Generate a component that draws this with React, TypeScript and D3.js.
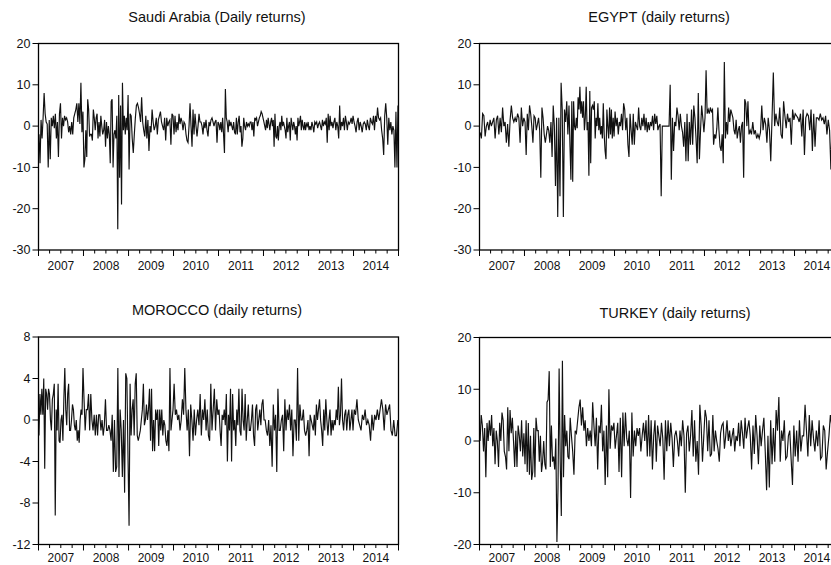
import React, { useEffect, useRef } from "react";
import * as d3 from "d3";

// one row of weekly-ish returns per calendar year, 2007 .. 2014
const years = [2007, 2008, 2009, 2010, 2011, 2012, 2013, 2014];
const yearLabels = ["2007", "2008", "2009", "2010", "2011", "2012", "2013", "2014"];

const saudiReturns: number[][] = [
  [-2, -9, 1.5, -3, 2, 8, 3, 1, 0.5, -10, 1.5, -8, 2, 0, 2.5, -0.5, 3, -3, 1, -7.5, 3, 5.5, -3, 2, 0, 2.5, 1.5, 2, 1, -1.5, 0, -2, 1, -2, 2, 3, 4, 5.5, 1, 5.5, 0.5, 10.5, -1.5, 3.5],
  [-10, -8, -1, -7.5, 6.5, 4, -2.5, -2, -2, -3.5, 4, 2, -1, 2, 3, -3, 1, -2.5, 2.5, 0, -2, -1, 1.5, -5, 1, -3, 0, -2, -9, 6, 6.5, -10, -2, -1, -3, 2.5, -25, 7.5, -12.5, 5, -19, 10.5, -1, 2.5, -2, 2, -1, 7.5],
  [-10.5, 3, 2.5, -3, -6.5, -2, 2, 5, 5.5, 4.5, 3, 1, 7, 1, -1, -2.5, 2.5, -3, 1.5, -6, 0, -1.5, 4, 1, -1, 0, 2, -2, 1.5, 2.5, 3.5, 1, 0, -1, 2, -3.5, 2, 0, 1, 1.5, -4.5, 3, 2.5],
  [-2, 2.5, -1.5, 1, -1, 3, 0.5, 2, 1, -1, 1, 0.5, -2, -3.5, -4, 0, 5.5, 0, -5, 4, -2, 3, 0, -2.5, 0, 3, 1, 1, 0, -2, 1, -0.5, 1.5, -1, -2.5, 1, 0, 1.5, 2, 1, 0, 1, 1.5, -4, 1],
  [0.5, -1, 1, -1.5, 2, -2, -6.5, 9, 2, 1, -1.5, 1.5, 0, 1, 0, -1, 1, -1.5, -2, 2, -2, 1, 2.5, -1.5, 0, -5, -3, 2, 0, -1, 1, 0, 0.5, 0, 1, 1, -1, 1, -2.5, 2, 1.5, 2, 0, 1, 2, 2.5, 3.5, 3, 2],
  [1, 0, -1, 1.5, -0.5, 2, 0.5, -1, 1, 2, 0, 1.5, -5, 3, -2.5, -3, 0, -3.5, 0, 1, -1, 2.5, 0, 1, 0, -1, -3, 2, -1.5, 0, 1, -3.5, 2, 0.5, -1, 1, 0, -2, 0, -3.5, 2, 0, 1, 2.5, -1, 1.5, 0, -1, 1, -1, 0.5, 0, 1],
  [-1, 0, -1, 1, 0, -1.5, 1, 0.5, 1, -0.5, 0.5, 1, 0, -1, 1.5, 0, 1, 0.5, 2, -4, 3, -1, 2.5, 0, 1, -0.5, 1, 2, -1, 1, 0, -3, 5, -1, 1, 0, 2, -1, 2.5, 1, -1, 1, 0.5, 1, 2, 0.5, 2.5],
  [1, 0, -1.5, 1, 2, -1, 1, 0, -1.5, 0.5, 1, 0.5, -1, 1.5, 0, -1, 2, 1, 0.5, 2.5, -1, 2.5, 1, 4.5, 2, 1.5, 2, -1, -3, -7, 2.5, 5.5, 2, -4.5, 2, -1, 1, -2, 0, -1, -10, 3.5, -10, 5],
];

const egyptReturns: number[][] = [
  [-1.5, -3, 3, 2.5, -2.5, 0, 1, -1, 1.5, 0, 1, 2, -3, 1.5, 2.5, -2, 2, -1.5, 4.5, 0, 1, -4, 0.5, -5, 1.5, 5, 2, 1, 2, 1, 3, 2, -4, 4.5, 0, 2],
  [1, -7, 3, -1, 5, 3, 0, -4, 2.5, 2, -1, 0.5, 2, -1, -12.5, 4.5, 2, -2, -4, -2, 0, -1, -4, 1, -7.5, 5, 0, -14.5, 2, -22, 2, -17, 10.5, 4, -22, 4, 1, 6, -2, 5],
  [-5, -13, 6, -13.5, 6, 0, -1, 2, -0.5, 7, 4, 9.5, 3, 6, 2, 6, -1, 2, 9.5, -1, 1, -12, 8.5, -9, 4.5, 5, 4, 6, -3, 2, 0, 5.5, -1, 2, -2, 0, -3, 5.5, -2, -6, -8, 4, 0, -3, 4.5, -2, 4, -3, 2, -2.5],
  [3.5, 0, 2, -2, 1, 0, 3, -1, 5.5, 4, -1, 2, -4.5, -7.5, 3, -1, -4.5, 3, -4.5, 1, 0, -1, 4.5, 0, -1, 2, 0, 3, -1, 2, -1.5, 1, -1, 1, 0, 2.5, -1, 3, 0.5, 2.5, -1, 0],
  [0.5, -17, 0, 0, 0, 0, 0, 0, 0, 10, -13, 2, -6, 1, 0, 4.5, 2.5, -1, 3, 0, -1.5, -5, 1, -8.5, 3, -8.5, 1, -4.5, 4, -4.5, 5, 2, -3, -9, 8, -8, -1, 5, 2, -1.5],
  [2, 13.5, 3, 4, 3, 4.5, 3.5, 4, -4.5, -2, -3, -0.5, 4.5, -1, -5, -6, -2, -9, 15.5, -3, 1, -2, 4.5, 1, 4, 3, 2, -1, -2, 1.5, -3, -1, 0, -4, 0, 1, -12.5, 6.5, 5.5, 0, 6, -2],
  [-1, -2, 1, -2, -1, -3, -2, -3, -1.5, 5, -1, 2, 0.5, -4, 2, -1, -8.5, 2, 13, 0, 3, 1, 0, 4.5, -2, -3, 6, 2.5, -0.5, 3, 1, 2, -4.5, 4, 1.5],
  [3, 2.5, 2, 1, 3, -2.5, 4, -7, 2, 3, 2.5, -1, 4, -6, 3, -5, 2, 2, 1.5, 3, 1.5, 2, 0.5, 2.5, -2, 1.5, -1, -10.5, 3, 1, -2, 2, 1, -1],
];

const moroccoReturns: number[][] = [
  [-1.5, 2.5, 0.5, 3, 0.5, 4, -4.7, 3, 2.5, 1, 3, 2.5, 0, -1, 2, 2.5, 3.5, -9.2, 1, -1, 3.5, -2, -2.2, 0, 0.5, -2, 2, 5, 1, -0.5, 2.5, 3.5, -1, -1, 0, 1.5, 1, -0.5, -1, 0, -2, -1, -2.2, 0, 1, 0.5, 5],
  [2, -1, 1, 1, 2.5, -1, 2.5, 0, -1, 0.5, -1.5, 0.5, -1.5, 0.5, 0.5, -1, 0, -1.5, -0.5, 2, -1, -1, -0.5, -1, -2, 0.5, -5, 0, -5, -4.5, 5, -5.5, 1, -1, -5.5, 0, -7, 4.5, 4, -3.5],
  [-10.2, 3.5, -1.5, 1, 2, -1.5, 3.5, 4.5, -1.5, -2, -1.5, -1, 0, 1, 3.5, -0.5, 0, 1.5, 0, 1, 3, -2, 3, -3, 0, -3, 1, 0, 1, -2.5, 1, -1, 1, -1.5, 0, -0.5, -2, -2.5, -1, -3, 5, -1, 0, 1],
  [3.5, 0.5, 1, 0, 0.5, -1, 0, 2, 0.5, 5, 1, -1, 1, -3.5, 1.5, 0, -2, 1, -1.5, 0, 1, -0.5, 2.5, -1.5, 1, 0, 2, -1, 1, -1.5, -2, 3.5, -1, 1, 3, -1, 2, 0.5],
  [1, -1, -2.5, 0.5, 0, 1, -0.5, 2.5, -4, 0.5, -1, 3, -4, 2.5, -1, 0, -2.5, 1, -0.5, 3, -1, -1.5, 3, 0, -1, 2.5, -2, 0, 1.5, -1, -1, 0, 1.5, -1.5, -2.5, 1, 1.5, -1, 0, 1, -0.5, 1.5, 2],
  [0, 0, -1, -1.5, 0, -2.5, -0.5, -4.5, 1.5, -1, 0.5, -5, 3, -1, -1, 0, 0.5, -3, 2, -1, 1, 0, 1.5, -1, 1, -3.5, 0, 0, -2, 5, -2, 1.5, 0, 0, 1, -1, -1.5, -1, 0],
  [-3.5, 0.5, 0, -0.5, -1, 0.5, -1.5, 1.5, 0, 1, 2, 0, -1, -2.5, 1, -1, 2, 0, -1.5, 0, 1, -1.5, 0, -1, 0, -0.5, 1, 0, 3.2, -0.5, 0.5, 4, 0, -1, 0.5, 1, -1, 0.5, 1, -1, 0, 1, -1],
  [1, 0.5, 2, 0, -0.5, -1, 0.5, 0, 1, -0.5, 0, -0.5, -2, 0.5, -1, 0.5, 0, 1, 0, 1, 2, 1, -1, 1.5, 0.5, 1, 1.5, -1, -1.5, 0, -1.5, -1.5, 0],
];

const turkeyReturns: number[][] = [
  [0, 5, 3, -2, 2.5, -7, 3.5, 0, 4, 1, 5, -1, 2.5, -4.5, 2, 0, -5, 3.5, 0, 5.5, 4, -2, -3, -5.5, 6.5, -2, 6, 1.5, 4.5, 0, -5, 2, -5, 3, 1, -2, 4, -3, 1.5],
  [-4.5, 4, -6, 3.5, -6.5, 1, -7.5, -6, 2.5, -7, 4.5, 2, 2, -4, 1, -6, -4, 0, -4.5, -5.5, 7.5, 8, 13.5, -5, 3, -4, -3, -5.5, 0.5, -19.5, -9, 14, -4, -14.5, 15.5, -7, 5, -1, 2, -3, -3.5],
  [4.5, 1, -2, -6.5, 2, 1.5, 4, 6.5, 8, 3, 6.5, 2, 4, -1, 2.5, 0, 2, -1, 7.5, 3, -1, 4.5, -5.5, 3, 1.5, 7, -2, 2, -8.5, 3, -7, 10, -1.5, 3, 2, 3.5],
  [-1.5, 1, 3.5, -6, 4.5, -7, 5.5, -1, 5.5, 0.5, -1, 2, -11, 5.5, -3, 2, -1, 2.5, 1, 2.5, -2, 1, 3.5, 0, 4, -3, 5, -3, 4, -5.5, 1, 4, -4, 3, 1],
  [-1, 3.5, 0.5, -7.5, 4, -2, 4, -1, 3.5, 0.5, -5, 1, 2, 0, -3, 2, -1, 4, 1, -10, 1.5, 3, -2, 1, 6, -3, 4, -4, 0, -6.5, 7, 3, -4, 1],
  [6, 4.5, -2, 4, -3, -2.5, 5, -2, 2, 0, -1.5, -4, 1.5, 3, 3.5, -1.5, 1, 4, 0, 2, -1, 1, 2.5, -2, 1, 0, 3.5, -1, 4, 1.5, -1.5, 4.5, 0.5, 2.5, 4],
  [1, -5.5, 3, -2.5, 5, 1, -4.5, 3, -1, 2, 4.5, -2, -9.5, 1, -9, 4, -4.5, 2.5, -4, 6, 2, 8.5, -4, 2, 0, 4, -3.5, -3, 1, 2, -3.5, -8.5, 3],
  [-3, 2, -4, 4, -2, 1, 1, 7, 2, -3, 5, -1, 4, 0.5, -2, 2, -1, 4, -3.5, -3, 3, 2, -5.5, -2, 1, 5, 3, -1, 2, -2, 1, 0],
];

const saudiTicks = [-30, -20, -10, 0, 10, 20];
const egyptTicks = [-30, -20, -10, 0, 10, 20];
const moroccoTicks = [-12, -8, -4, 0, 4, 8];
const turkeyTicks = [-20, -10, 0, 10, 20];

const panels = [
  { title: "Saudi Arabia (Daily returns)", values: saudiReturns, ticks: saudiTicks, x: 38.5, y: 43.5, h: 206.5, titleX: 217, titleY: 21.5, labelGap: 20 },
  { title: "EGYPT (daily returns)", values: egyptReturns, ticks: egyptTicks, x: 479.5, y: 43.5, h: 206.5, titleX: 659, titleY: 21.5, labelGap: 20 },
  { title: "MOROCCO (daily returns)", values: moroccoReturns, ticks: moroccoTicks, x: 38.5, y: 337, h: 207.5, titleX: 217, titleY: 315, labelGap: 17.5 },
  { title: "TURKEY (daily returns)", values: turkeyReturns, ticks: turkeyTicks, x: 479.5, y: 337.5, h: 207, titleX: 675, titleY: 318, labelGap: 17.5 },
];

const PANEL_W = 360;
const FONT = "'Liberation Sans', Arial, sans-serif";

const App = () => {
  const svgRef = useRef<SVGSVGElement>(null);

  useEffect(() => {
    if (!svgRef.current) return;
    const svg = d3.select(svgRef.current);
    svg.selectAll("*").remove();

    const start = new Date(2007, 0, 1);
    const end = new Date(2015, 0, 1);

    panels.forEach((p) => {
      const g = svg.append("g");
      const x = d3.scaleTime().domain([start, end]).range([p.x, p.x + PANEL_W]);
      const y = d3.scaleLinear()
        .domain(d3.extent(p.ticks) as [number, number])
        .range([p.y + p.h, p.y]);
      const bottom = p.y + p.h;

      // spread each year's values evenly over that year
      const points = p.values.flatMap((row, yi) => {
        const y0 = +new Date(years[yi], 0, 1);
        const y1 = +new Date(years[yi] + 1, 0, 1);
        return row.map((v, i) => ({ date: new Date(y0 + ((i + 0.5) / row.length) * (y1 - y0)), value: v }));
      });

      const line = d3.line<{ date: Date; value: number }>()
        .x(d => x(d.date))
        .y(d => y(d.value));

      g.append("path")
        .datum(points)
        .attr("d", line)
        .attr("fill", "none")
        .attr("stroke", "#111")
        .attr("stroke-width", 1.15);

      // frame
      g.append("rect")
        .attr("x", p.x)
        .attr("y", p.y)
        .attr("width", PANEL_W)
        .attr("height", p.h)
        .attr("fill", "none")
        .attr("stroke", "#000")
        .attr("stroke-width", 1.3);

      // y ticks + labels
      p.ticks.forEach((t) => {
        g.append("line")
          .attr("x1", p.x - 6).attr("x2", p.x)
          .attr("y1", y(t)).attr("y2", y(t))
          .attr("stroke", "#000").attr("stroke-width", 1);
        g.append("text")
          .attr("x", p.x - 8)
          .attr("y", y(t))
          .attr("dy", "0.35em")
          .attr("text-anchor", "end")
          .attr("font-family", FONT)
          .attr("font-size", 12.5)
          .attr("fill", "#111")
          .text(String(t));
      });

      // quarterly ticks, longer at year boundaries
      const quarters = d3.timeMonth.every(3)!.range(start, d3.timeDay.offset(end, 1));
      quarters.forEach((q) => {
        const isYear = q.getMonth() === 0;
        g.append("line")
          .attr("x1", x(q)).attr("x2", x(q))
          .attr("y1", bottom).attr("y2", bottom + (isYear ? 6 : 3.5))
          .attr("stroke", "#000").attr("stroke-width", 1);
      });

      years.forEach((yr, i) => {
        g.append("text")
          .attr("x", x(new Date(yr, 6, 2)))
          .attr("y", bottom + p.labelGap)
          .attr("text-anchor", "middle")
          .attr("font-family", FONT)
          .attr("font-size", 12)
          .attr("fill", "#111")
          .text(yearLabels[i]);
      });

      g.append("text")
        .attr("x", p.titleX)
        .attr("y", p.titleY)
        .attr("text-anchor", "middle")
        .attr("font-family", FONT)
        .attr("font-size", 14.5)
        .attr("fill", "#111")
        .text(p.title);
    });
  }, []);

  return (
    <svg
      ref={svgRef}
      width={831}
      height={565}
      style={{ position: "absolute", left: 0, top: 0, background: "#fff", overflow: "hidden" }}
    />
  );
};

export default App;
